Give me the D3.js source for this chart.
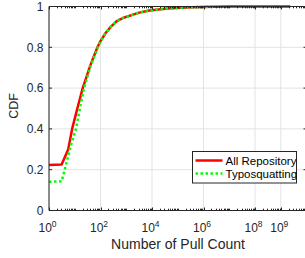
<!DOCTYPE html>
<html><head><meta charset="utf-8">
<script src="https://cdn.jsdelivr.net/npm/d3@7"></script>
<style>body{margin:0;background:#fff;} svg{display:block;}</style>
</head><body>
<svg id="c" width="305" height="258"></svg>
<script>
// Data (pull count, CDF)
const allRepoCount = [1, 3.1, 5.6, 7.9, 12.6, 20.4, 40, 76, 100, 158, 251, 447, 794, 3162, 7943, 39811, 316228, 2.5e6, 1e7, 2.34e9];
const allRepoCDF   = [0.223, 0.225, 0.30, 0.40, 0.50, 0.60, 0.71, 0.80, 0.83, 0.87, 0.90, 0.93, 0.945, 0.97, 0.98, 0.99, 0.996, 0.999, 1.0, 1.0];
const typoCount = [1, 3.1, 4.9, 7.1, 11.2, 15.8, 22.9, 41.7, 79, 100, 158, 251, 447, 794, 3162, 7943, 39811, 316228, 2.4e6];
const typoCDF   = [0.141, 0.143, 0.24, 0.32, 0.40, 0.50, 0.60, 0.71, 0.80, 0.83, 0.87, 0.90, 0.93, 0.945, 0.97, 0.98, 0.99, 0.996, 0.999];
const xTickValues = [1, 1e2, 1e4, 1e6, 1e8, 1e9];
const xTickExps = ["0", "2", "4", "6", "8", "9"];
const yTickValues = [0, 0.2, 0.4, 0.6, 0.8, 1];
const yTickLabels = ["0", "0.2", "0.4", "0.6", "0.8", "1"];
const seriesNames = ["All Repository", "Typosquatting"];
const seriesColors = ["#ff0000", "#00ff00"];

const svg = d3.select("#c");
const font = "'Liberation Sans', Arial, Helvetica, sans-serif";
const textColor = "#262626";
const L = 49, R = 306.5, T = 6.5, B = 210.5;
const x = d3.scaleLog().domain([1, 1e10]).range([L, R]);
const y = d3.scaleLinear().domain([0, 1]).range([B, T]);

// grid
const g = svg.append("g");
g.selectAll("line.gx").data(xTickValues).enter().append("line")
  .attr("x1", d => x(d)).attr("x2", d => x(d)).attr("y1", T).attr("y2", B)
  .attr("stroke", "#e3e3e3").attr("stroke-width", 1);
g.selectAll("line.gy").data(yTickValues).enter().append("line")
  .attr("y1", d => y(d)).attr("y2", d => y(d)).attr("x1", L).attr("x2", R)
  .attr("stroke", "#e3e3e3").attr("stroke-width", 1);

// series
const line = d3.line().x(d => x(d[0])).y(d => y(d[1]));
const red = allRepoCount.map((c, i) => [c, allRepoCDF[i]]);
const green = typoCount.map((c, i) => [c, typoCDF[i]]);
svg.append("path").attr("d", line(red)).attr("fill", "none")
  .attr("stroke", seriesColors[0]).attr("stroke-width", 2.5).attr("stroke-linejoin", "round");
svg.append("path").attr("d", line(green)).attr("fill", "none")
  .attr("stroke", seriesColors[1]).attr("stroke-width", 2.5).attr("stroke-dasharray", "2.5,2.5");

// axes box
const minor = [];
for (let e = 0; e < 10; e++) for (let k = 1; k <= 9; k++) minor.push(k * Math.pow(10, e));
const ax = svg.append("g").attr("stroke", textColor).attr("stroke-width", 1);
ax.append("line").attr("x1", L).attr("x2", R).attr("y1", B).attr("y2", B);
ax.append("line").attr("x1", L).attr("x2", R).attr("y1", T).attr("y2", T);
ax.append("line").attr("x1", L).attr("x2", L).attr("y1", T).attr("y2", B);
ax.append("line").attr("x1", R).attr("x2", R).attr("y1", T).attr("y2", B);
minor.forEach(m => {
  const len = xTickValues.includes(m) ? 3 : 1.8;
  const xx = Math.round(x(m)) + 0.5;
  ax.append("line").attr("x1", xx).attr("x2", xx).attr("y1", B).attr("y2", B - len);
  ax.append("line").attr("x1", xx).attr("x2", xx).attr("y1", T).attr("y2", T + len);
});
yTickValues.forEach(v => {
  ax.append("line").attr("x1", L).attr("x2", L + 3).attr("y1", y(v)).attr("y2", y(v));
  ax.append("line").attr("x1", R).attr("x2", R - 3).attr("y1", y(v)).attr("y2", y(v));
});

// tick labels
xTickValues.forEach((v, i) => {
  const t = svg.append("text").attr("x", x(v) - 1.5).attr("y", 232)
    .attr("font-family", font).attr("font-size", 12).attr("fill", textColor)
    .attr("text-anchor", "middle");
  t.append("tspan").text("10");
  t.append("tspan").attr("dy", -5).attr("font-size", 8.5).text(xTickExps[i]);
});
yTickValues.forEach((v, i) => {
  svg.append("text").attr("x", 43.5).attr("y", y(v) + 4.2)
    .attr("font-family", font).attr("font-size", 12).attr("fill", textColor)
    .attr("text-anchor", "end").text(yTickLabels[i]);
});

// axis labels
svg.append("text").attr("x", 178).attr("y", 249).attr("text-anchor", "middle")
  .attr("font-family", font).attr("font-size", 14).attr("fill", textColor).text("Number of Pull Count");
svg.append("text").attr("transform", "translate(17.5,106) rotate(-90)").attr("text-anchor", "middle")
  .attr("font-family", font).attr("font-size", 12.5).attr("fill", textColor).text("CDF");

// legend
const lg = svg.append("g");
lg.append("rect").attr("x", 192.5).attr("y", 151.5).attr("width", 104).attr("height", 31.5)
  .attr("fill", "#fff").attr("stroke", textColor).attr("stroke-width", 1);
const ly = [160.5, 173.5];
seriesNames.forEach((n, i) => {
  lg.append("line").attr("x1", 195.5).attr("x2", 222.5).attr("y1", ly[i]).attr("y2", ly[i])
    .attr("stroke", seriesColors[i]).attr("stroke-width", 2.5)
    .attr("stroke-dasharray", i === 1 ? "2.5,2.5" : null);
  lg.append("text").attr("x", 225.5).attr("y", ly[i] + 4).attr("font-family", font)
    .attr("font-size", 11.5).attr("fill", "#000").text(n);
});
</script>
</body></html>
